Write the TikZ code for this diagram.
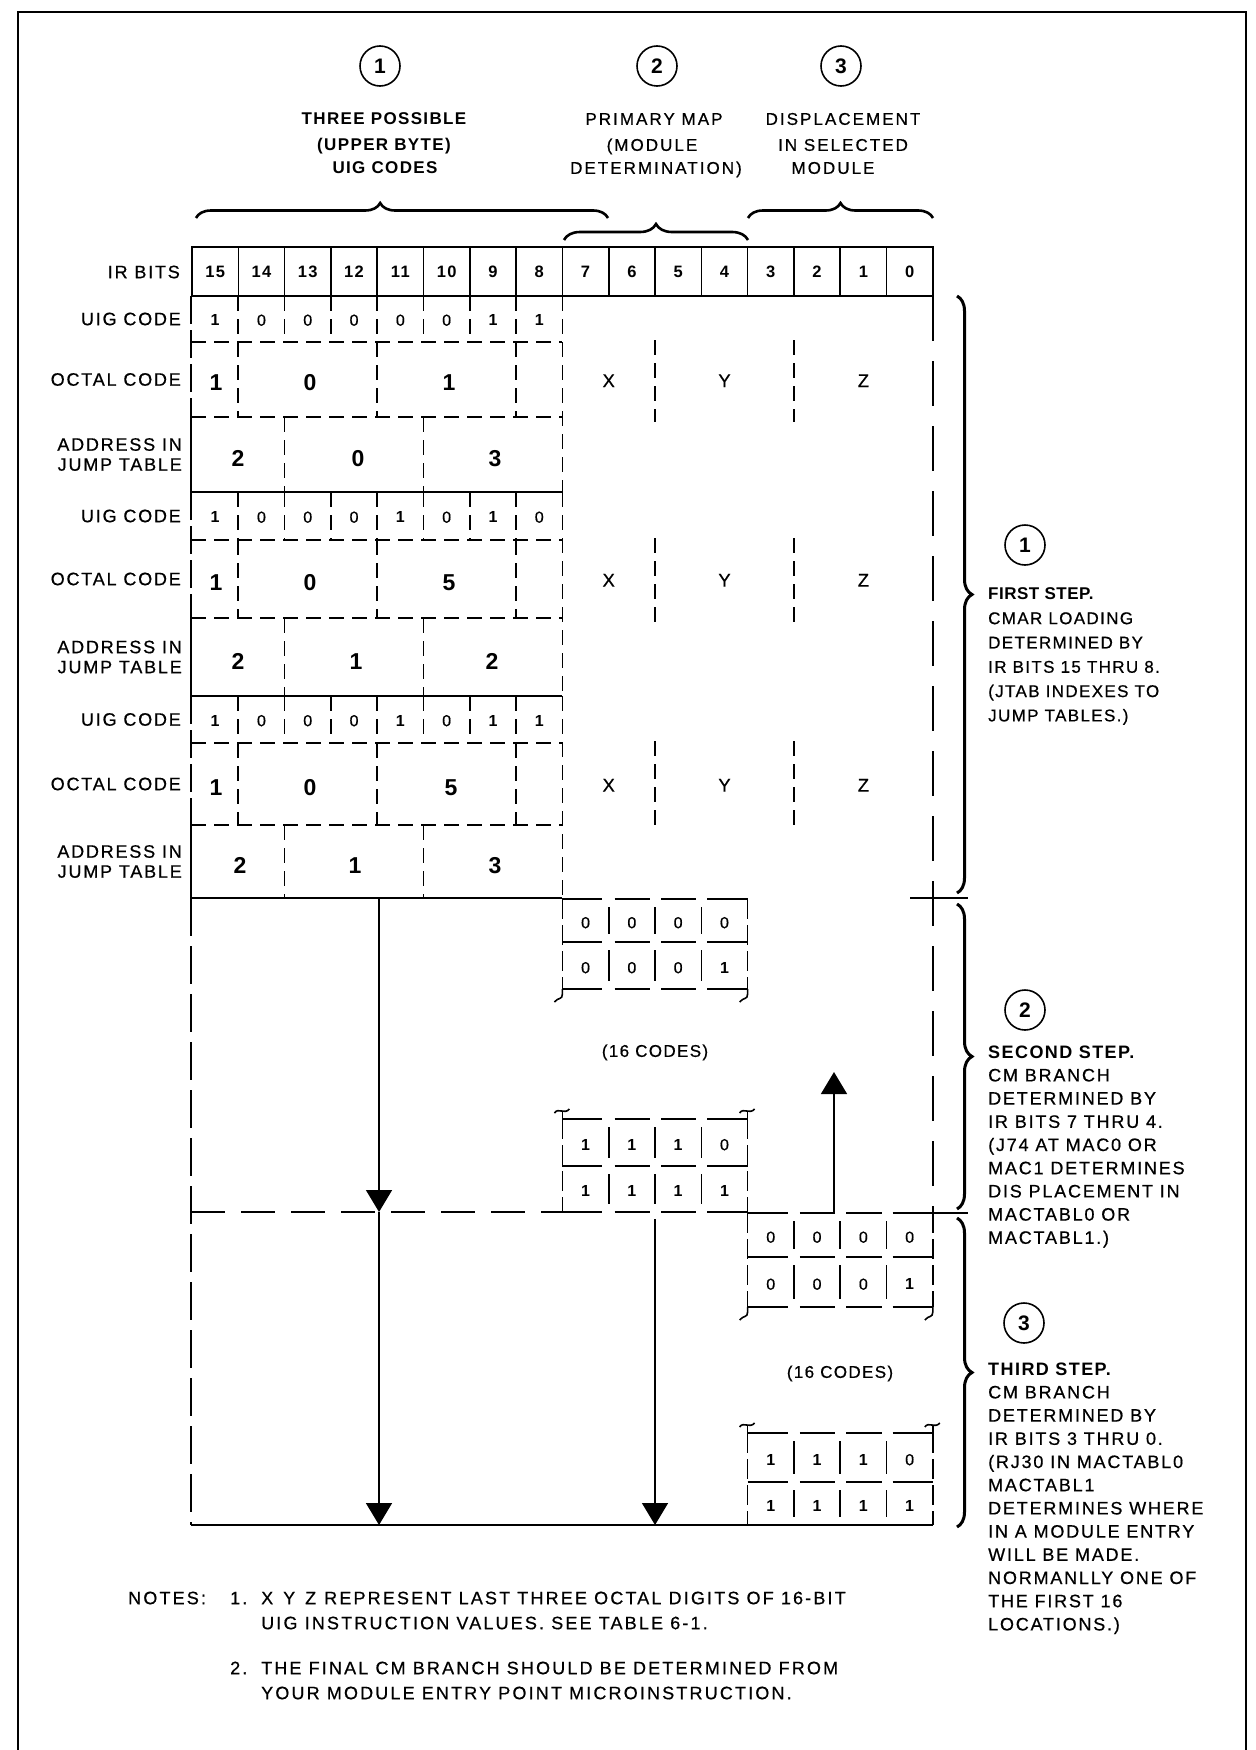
\documentclass[tikz,border=0pt]{standalone}
\usepackage{fontspec}
\setmainfont{Liberation Sans}[LetterSpace=8, UprightFeatures={FakeBold=0.6}]
\newfontfamily\hdfont{Liberation Sans}[LetterSpace=12, UprightFeatures={FakeBold=0.6}]
\newfontfamily\lblfont{Liberation Sans}[LetterSpace=10, UprightFeatures={FakeBold=0.6}]
\newfontfamily\ntfont{Liberation Sans}[LetterSpace=12, UprightFeatures={FakeBold=0.6}]
\newfontfamily\tightfont{Liberation Sans}[LetterSpace=3]
\usetikzlibrary{decorations.pathreplacing,arrows.meta}
\newcommand\fs[1]{\fontsize{#1}{#1}\selectfont}
\newcommand\bd[1]{\ifnum#1=1 \bfseries\fi #1}
\tikzset{
  every node/.style={inner sep=0pt},
  txt/.style={font=\fs{17}, text height=11.7pt, text depth=0pt},
  lbl/.style={font=\lblfont\fs{18}, text height=12.4pt, text depth=0pt, anchor=east},
  bitn/.style={font=\bfseries\fs{16.5}, text height=11.8pt, text depth=0pt},
  uigd/.style={font=\fs{16}, text height=11.4pt, text depth=0pt},
  bigd/.style={font=\bfseries\fs{23}, text height=16.5pt, text depth=0pt},
  xyzt/.style={font=\fs{18.5}, text height=13.2pt, text depth=0pt},
  sbd/.style={font=\fs{16}, text height=11.4pt, text depth=0pt},
  numc/.style={draw, circle, line width=1.6pt, minimum size=40pt, font=\bfseries\fs{21}},
  hd/.style={font=\hdfont\fs{17}, text height=11.7pt, text depth=0pt},
  hdb/.style={font=\bfseries\fs{17}, text height=11.7pt, text depth=0pt},
  st/.style={txt, anchor=west},
  stw/.style={font=\lblfont\fs{18}, text height=12.4pt, text depth=0pt, anchor=west},
  nts/.style={font=\ntfont\fs{18}, text height=12.4pt, text depth=0pt, anchor=west},
  dsh/.style={line width=1.7pt, dash pattern=on 15pt off 8pt},
  thn/.style={line width=1.6pt},
  thk/.style={line width=2.6pt},
  brc/.style={decorate, line width=2.6pt},
  arr/.style={line width=1.6pt, -{Triangle[width=26pt,length=22pt]}},
}
% block of three rows: id, top, sep1, sep2, bottom, uig digits, octal d/x, address d/x
\newcommand\uigblock[8]{%
  \node[lbl] (#1lu) at (181,{(#2+#3)/2}) {UIG CODE};
  \node[lbl] (#1lo) at (181,{(#3+#4)/2}) {OCTAL CODE};
  \node[lbl] (#1la) at (182,{(#4+#5)/2-10}) {ADDRESS IN};
  \node[lbl] (#1lj) at (182,{(#4+#5)/2+10}) {JUMP TABLE};
  \foreach \d [count=\i from 0] in {#6} \node[uigd] (#1u\i) at ({215.15+46.3*\i},{(#2+#3)/2+1}) {\bd{\d}};
  \foreach \d/\xx [count=\i] in {#7} \node[bigd] (#1o\i) at (\xx,{(#3+#4)/2+3}) {\d};
  \foreach \d/\xx [count=\i] in {#8} \node[bigd] (#1a\i) at (\xx,{(#4+#5)/2+4}) {\d};
  \draw[line width=1.9pt, dash pattern=on 28pt off 6pt] (191,#2) -- (191,#4);
  \draw[line width=1.9pt] (191,#4) -- (191,#5);
  \foreach \k in {1,...,7} \draw[dsh] ({192+46.3*\k},#2) -- ({192+46.3*\k},#3);
  \draw[dsh] (191,#3) -- (562.4,#3);
  \draw[dsh] (191,#4) -- (562.4,#4);
  \foreach \k in {1,4,7} \draw[dsh] ({192+46.3*\k},#3) -- ({192+46.3*\k},#4);
  \foreach \k in {2,5} \draw[dsh] ({192+46.3*\k},#4) -- ({192+46.3*\k},#5);
  \draw[dsh] (562.4,#2) -- (562.4,#5);
  \draw[line width=2.2pt] (191,#5) -- (562.4,#5);
  \node[xyzt] (#1x) at (608.7,{(#3+#4)/2+1}) {X};
  \node[xyzt] (#1y) at (724.5,{(#3+#4)/2+1}) {Y};
  \node[xyzt] (#1z) at (863.4,{(#3+#4)/2+1}) {Z};
  \draw[dsh] (655,{#3-2}) -- (655,{#4+5});
  \draw[dsh] (793.9,{#3-2}) -- (793.9,{#4+5});
}
\newcommand\sqb[2]{\draw[thn] ({#1},{#2}) -- ({#1},{#2+5}) .. controls ({#1},{#2+11}) and ({#1-4},{#2+8}) .. ({#1-8},{#2+13});}
\newcommand\sqt[2]{\draw[thn] ({#1},{#2}) -- ({#1},{#2-8}); \draw[thn] ({#1-8},{#2-6}) .. controls ({#1-4},{#2-12}) and ({#1+2},{#2-4}) .. ({#1+7},{#2-10});}
% sub-block: id, x0, top, mid, bottom, row1, row2, squiggle side
\newcommand\subblk[8]{%
  \foreach \yy in {#3,#4,#5} {
    \draw[thn] (#2,\yy) -- ({#2+40},\yy) ({#2+52.3},\yy) -- ({#2+87.6},\yy) ({#2+98.6},\yy) -- ({#2+133.9},\yy) ({#2+144.9},\yy) -- ({#2+185.2},\yy);
  }
  \draw[thn, dash pattern=on 20pt off 6pt] (#2,#3) -- (#2,#5);
  \draw[thn, dash pattern=on 20pt off 6pt] ({#2+185.2},#3) -- ({#2+185.2},#5);
  \foreach \k in {1,2,3} {
    \draw[thn] ({#2+46.3*\k},{#3+8}) -- ({#2+46.3*\k},{#4-8});
    \draw[thn] ({#2+46.3*\k},{#4+8}) -- ({#2+46.3*\k},{#5-8});
  }
  \foreach \d [count=\i from 0] in {#6} \node[sbd] (#1r\i) at ({#2+23.15+46.3*\i},{(#3+#4)/2+2}) {\bd{\d}};
  \foreach \d [count=\i from 0] in {#7} \node[sbd] (#1s\i) at ({#2+23.15+46.3*\i},{(#4+#5)/2+2}) {\bd{\d}};
  \if b#8
    \sqb{#2}{#5}\sqb{#2+185.2}{#5}
  \else
    \sqt{#2}{#3}\sqt{#2+185.2}{#3}
  \fi
}
\begin{document}
\begin{tikzpicture}[x=1pt,y=-1pt]
\useasboundingbox (0,0) rectangle (1255,1750);
% frame
\draw[line width=2pt] (18,1750) -- (18,12) -- (1246,12) -- (1246,1750);

% top headings
\node[numc] (n1) at (380,66) {1};
\node[numc] (n2) at (657,66) {2};
\node[numc] (n3) at (841,66) {3};
\node[hdb] (h1a) at (384,119) {THREE POSSIBLE};
\node[hdb] (h1b) at (384,145) {(UPPER BYTE)};
\node[hdb] (h1c) at (385,168) {UIG CODES};
\node[hd] (h2a) at (654,119) {PRIMARY MAP};
\node[hd] (h2b) at (652,145) {(MODULE};
\node[hd] (h2c) at (656,168) {DETERMINATION)};
\node[hd] (h3a) at (843,119) {DISPLACEMENT};
\node[hd] (h3b) at (843,145) {IN SELECTED};
\node[hd] (h3c) at (833,168) {MODULE};

% top braces
\draw[brc, decoration={brace,amplitude=15pt,aspect=0.447}] (196,218) -- (608,218);
\draw[brc, decoration={brace,amplitude=16pt}] (564,240) -- (748,240);
\draw[brc, decoration={brace,amplitude=15pt}] (748,218) -- (933,218);

% IR bits table
\foreach \k in {1,...,15} \draw[thn] ({192+46.3*\k},247) -- ({192+46.3*\k},296);
\draw[thk] (192,247) rectangle (932.8,296);
\foreach \b [count=\i from 0] in {15,14,...,0} \node[bitn] (ir\i) at ({215.15+46.3*\i},272) {\b};
\node[lbl] (irl) at (180,272) {IR BITS};

% three UIG blocks
\uigblock{a}{296}{342}{417}{492}{1,0,0,0,0,0,1,1}{1/216,0/310,1/449}{2/238,0/358,3/495}
\uigblock{b}{492}{540}{618}{696}{1,0,0,0,1,0,1,0}{1/216,0/310,5/449}{2/238,1/356,2/492}
\uigblock{c}{696}{743}{825}{898}{1,0,0,0,1,0,1,1}{1/216,0/310,5/451}{2/240,1/355,3/495}

% right boundary of upper region
\draw[line width=2pt, dash pattern=on 45pt off 20pt] (932.8,296) -- (932.8,1213);

% sub-blocks
\subblk{p}{562.4}{899}{942}{989}{0,0,0,0}{0,0,0,1}{b}
\subblk{q}{562.4}{1119}{1166}{1212}{1,1,1,0}{1,1,1,1}{t}
\subblk{r}{747.6}{1213}{1257}{1307}{0,0,0,0}{0,0,0,1}{b}
\subblk{s}{747.6}{1433}{1482}{1525}{1,1,1,0}{1,1,1,1}{t}
\node[txt] (c16a) at (655,1051) {(16 CODES)};
\node[txt] (c16b) at (840,1372) {(16 CODES)};

% lower frame
\draw[line width=2pt, dash pattern=on 38pt off 10pt] (191,898) -- (191,1525);
\draw[line width=1.8pt, dash pattern=on 34pt off 16pt] (191,1212) -- (562.4,1212);
\draw[line width=2.5pt] (191,1525) -- (933,1525);
\draw[line width=2pt] (910,898) -- (968,898);
\draw[line width=2pt] (910,1213) -- (968,1213);

% arrows
\coordinate (a1s) at (379,898);
\coordinate (a1m) at (379,1212);
\coordinate (a1e) at (379,1525);
\coordinate (a2s) at (655,1219);
\coordinate (a2e) at (655,1525);
\coordinate (a3s) at (834,1213);
\coordinate (a3e) at (834,1072);
\draw[arr] (a1s) -- (a1m);
\draw[arr] (a1m) -- (a1e);
\draw[arr] (a2s) -- (a2e);
\draw[arr] (a3s) -- (a3e);

% right braces
\draw[brc, line width=3pt, decoration={brace,amplitude=15pt}] (957,296) -- (957,893);
\draw[brc, line width=3pt, decoration={brace,amplitude=15pt}] (957,904) -- (957,1209);
\draw[brc, line width=3pt, decoration={brace,amplitude=15pt}] (957,1218) -- (957,1527);

% step texts
\node[numc] (m1) at (1025,545) {1};
\node[st, font=\tightfont\bfseries\fs{17}] (f1) at (988,594) {FIRST STEP.};
\foreach \t [count=\i] in {{CMAR LOADING},{DETERMINED BY},{IR BITS 15 THRU 8.},{(JTAB INDEXES TO},{JUMP TABLES.)}}
  \node[st] (fa\i) at (988,{594+24.3*\i}) {\t};
\node[numc] (m2) at (1025,1010) {2};
\node[stw, font=\bfseries\fs{18}] (f2) at (988,1052) {SECOND STEP.};
\foreach \t [count=\i] in {{CM BRANCH},{DETERMINED BY},{IR BITS 7 THRU 4.},{(J74 AT MAC0 OR},{MAC1 DETERMINES},{DIS PLACEMENT IN},{MACTABL0 OR},{MACTABL1.)}}
  \node[stw] (fb\i) at (988,{1052+23.2*\i}) {\t};
\node[numc] (m3) at (1024,1323) {3};
\node[stw, font=\bfseries\fs{18}] (f3) at (988,1369) {THIRD STEP.};
\foreach \t [count=\i] in {{CM BRANCH},{DETERMINED BY},{IR BITS 3 THRU 0.},{(RJ30 IN MACTABL0},{MACTABL1},{DETERMINES WHERE},{IN A MODULE ENTRY},{WILL BE MADE.},{NORMANLLY ONE OF},{THE FIRST 16},{LOCATIONS.)}}
  \node[stw] (fc\i) at (988,{1369+23.2*\i}) {\t};

% notes
\node[nts] (nt) at (128,1598) {NOTES:};
\node[nts] (nn1) at (230,1598) {1.};
\node[nts] (nl1) at (261,1598) {X\hspace{10pt}Y\hspace{10pt}Z\hspace{8pt}REPRESENT LAST THREE OCTAL DIGITS OF 16-BIT};
\node[nts] (nl2) at (261,1623) {UIG INSTRUCTION VALUES. SEE TABLE 6-1.};
\node[nts] (nn2) at (230,1668) {2.};
\node[nts] (nl3) at (261,1668) {THE FINAL CM BRANCH SHOULD BE DETERMINED FROM};
\node[nts] (nl4) at (261,1693) {YOUR MODULE ENTRY POINT MICROINSTRUCTION.};
\end{tikzpicture}
\end{document}
